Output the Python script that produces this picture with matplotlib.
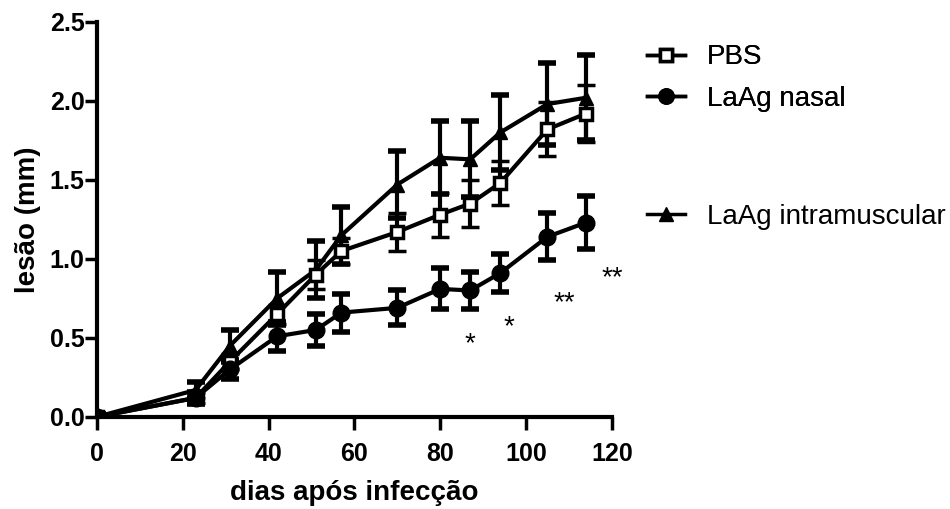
import matplotlib
matplotlib.use("Agg")
from matplotlib import pyplot as plt
from matplotlib.lines import Line2D

plt.rcParams['font.family'] = ['Liberation Sans', 'DejaVu Sans']

# days after infection
days = [0, 23, 31, 42, 51, 57, 70, 80, 87, 94, 105, 114]

# lesion size (mm), mean and error
pbs = [0.0, 0.12, 0.35, 0.65, 0.90, 1.05, 1.17, 1.28, 1.35, 1.48, 1.82, 1.92]
pbs_err = [0.02, 0.03, 0.05, 0.06, 0.09, 0.08, 0.12, 0.14, 0.15, 0.14, 0.17, 0.18]

nasal = [0.0, 0.12, 0.30, 0.51, 0.55, 0.66, 0.69, 0.81, 0.80, 0.91, 1.14, 1.23]
nasal_err = [0.02, 0.04, 0.06, 0.09, 0.10, 0.12, 0.11, 0.13, 0.12, 0.12, 0.15, 0.17]

im = [0.0, 0.17, 0.45, 0.75, 0.93, 1.15, 1.47, 1.64, 1.63, 1.80, 1.98, 2.02]
im_err = [0.02, 0.05, 0.10, 0.17, 0.18, 0.18, 0.21, 0.23, 0.24, 0.24, 0.26, 0.27]

# significance marks
star_x = [87, 96, 109, 120]
star_y = [0.46, 0.57, 0.72, 0.88]
star_txt = ['*', '*', '**', '**']

fig = plt.figure(figsize=(9.5, 5.09), dpi=100)
ax = fig.add_axes([0.102, 0.181, 0.542, 0.776])

style = dict(color='black', linewidth=3, elinewidth=3, capsize=6.5, capthick=4)
ax.errorbar(days, im, yerr=im_err, marker='^', markersize=10, **style)
ax.errorbar(days, pbs, yerr=pbs_err, marker='s', markersize=9,
            markerfacecolor='white', markeredgewidth=2.5, **style)
ax.errorbar(days, nasal, yerr=nasal_err, marker='o', markersize=12, **style)

for x, y, t in zip(star_x, star_y, star_txt):
    ax.text(x, y, t, ha='center', va='center', fontsize=20, clip_on=False)

ax.set_xlim(0, 120)
ax.set_ylim(0, 2.5)
ax.set_xticks([0, 20, 40, 60, 80, 100, 120])
ax.set_yticks([0.0, 0.5, 1.0, 1.5, 2.0, 2.5])
ax.set_yticklabels(['0.0', '0.5', '1.0', '1.5', '2.0', '2.5'])
for s in ['top', 'right']:
    ax.spines[s].set_visible(False)
for s in ['left', 'bottom']:
    ax.spines[s].set_linewidth(3)
ax.tick_params(width=2.5, length=9, labelsize=18)
ax.tick_params(axis='y', pad=0)
ax.tick_params(axis='x', pad=9)
for lab in ax.get_xticklabels() + ax.get_yticklabels():
    lab.set_fontweight('bold')
ax.set_xlabel("dias após infecção", fontsize=20, fontweight='bold', labelpad=10)
ax.set_ylabel("lesão (mm)", fontsize=20, fontweight='bold', labelpad=6)

# legend, with a gap before the third entry
h_pbs = Line2D([], [], color='black', lw=2.5, marker='s', markersize=9,
               markerfacecolor='white', markeredgewidth=2.5)
h_nasal = Line2D([], [], color='black', lw=2.5, marker='o', markersize=11)
h_im = Line2D([], [], color='black', lw=2.5, marker='^', markersize=10)
leg_kw = dict(loc='upper left', frameon=False, fontsize=20, handlelength=1.37,
              handletextpad=0.8, borderpad=0, borderaxespad=0)
leg1 = fig.legend([h_pbs, h_nasal], ['PBS', 'LaAg nasal'],
                  bbox_to_anchor=(0.681, 0.913), labelspacing=0.55, **leg_kw)
fig.legend([h_im], ['LaAg intramuscular'], bbox_to_anchor=(0.681, 0.60), **leg_kw)
fig.add_artist(leg1)

plt.savefig("out.png", dpi=100)
